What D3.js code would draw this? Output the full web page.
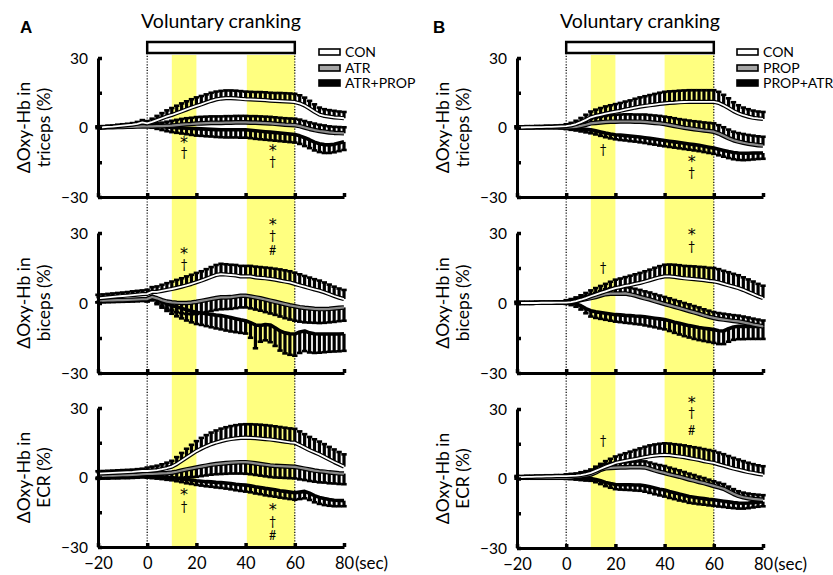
<!DOCTYPE html>
<html><head><meta charset="utf-8">
<script src="https://cdn.jsdelivr.net/npm/d3@7"></script>
<style>html,body{margin:0;padding:0;background:#fff;} svg{display:block;font-family:Lato,"Open Sans",sans-serif;}</style>
</head><body><svg id="chart" width="833" height="575"></svg>
<script>
"use strict";
// ---------------- DATA ----------------
const timeSec = [-20,-18,-16,-14,-12,-10,-8,-6,-4,-2, 0,2,4,6,8,10,12,14,16,18, 20,22,24,26,28,30,32,34,36,38, 40,42,44,46,48,50,52,54,56,58, 60,62,64,66,68,70,72,74,76,78, 80];
const xTicks = [-20,0,20,40,60,80];
const yTicks = [30,15,0,-15,-30];
const muscleLabels = [["ΔOxy-Hb in","triceps (%)"],["ΔOxy-Hb in","biceps (%)"],["ΔOxy-Hb in","ECR (%)"]];
const seriesNamesA = ["CON","ATR","ATR+PROP"];
const seriesNamesB = ["CON","PROP","PROP+ATR"];
const exerciseWindow = [0,60];
const analysisWindowsA = [[10,20],[40.5,60]];
const analysisWindowsB = [[10,20],[40,60]];
// error-bar direction per muscle (row) and series: +1 = upper SE, -1 = lower SE
const errDirA = [[1,1,-1],[1,-1,-1],[1,-1,-1]];
const errDirB = [[1,1,-1],[1,1,-1],[1,1,-1]];

// Panel A, triceps
const A_tri_CON = [0.0,0.1,0.3,0.4,0.6,0.8,1.0,1.2,1.6,2.2, 1.8,2.4,3.2,4.0,4.8,5.4,6.2,7.0,7.8,8.6, 9.3,10.0,10.8,11.5,12.1,12.5,12.7,12.7,12.6,12.4, 12.2,12.1,12.0,11.9,11.8,11.6,11.5,11.4,11.3,11.2, 11.0,10.4,9.5,8.2,6.8,5.6,5.0,4.7,4.4,4.2, 4.0];
const A_tri_CON_se = [0.5,0.5,0.5,0.5,0.6,0.6,0.6,0.7,0.8,1.0, 1.0,1.4,1.8,2.2,2.6,3.0,3.2,3.4,3.5,3.6, 3.7,3.6,3.5,3.5,3.4,3.3,3.3,3.3,3.3,3.3, 3.3,3.3,3.3,3.4,3.4,3.4,3.4,3.5,3.5,3.5, 3.5,3.5,3.4,3.3,3.2,3.0,2.9,2.8,2.8,2.7, 2.7];
const A_tri_ATR = [0.0,0.0,0.1,0.1,0.2,0.2,0.3,0.3,0.4,0.5, 0.5,0.5,0.6,0.6,0.7,0.8,1.0,1.2,1.4,1.5, 1.7,1.8,1.9,2.0,2.0,2.0,2.1,2.1,2.2,2.2, 2.2,2.1,2.1,2.0,1.9,1.8,1.6,1.4,1.2,1.1, 1.0,0.6,0.0,-0.6,-1.1,-1.5,-1.8,-2.1,-2.3,-2.4, -2.5];
const A_tri_ATR_se = [0.3,0.3,0.3,0.3,0.3,0.4,0.4,0.4,0.4,0.5, 0.6,0.9,1.2,1.5,1.8,2.1,2.3,2.5,2.6,2.7, 2.8,2.8,2.8,2.8,2.8,2.8,2.8,2.8,2.8,2.8, 2.8,2.8,2.8,2.8,2.8,2.8,2.8,2.8,2.8,2.8, 2.8,2.8,2.8,2.8,2.8,2.7,2.7,2.6,2.6,2.6, 2.6];
const A_tri_AP = [0.0,0.1,0.2,0.3,0.4,0.5,0.6,0.8,1.0,1.4, 1.0,0.8,0.6,0.4,0.2,0.0,-0.1,-0.2,-0.3,-0.4, -0.5,-0.6,-0.7,-0.8,-0.9,-1.0,-1.0,-1.0,-1.0,-1.0, -1.0,-1.2,-1.4,-1.6,-1.8,-2.0,-2.2,-2.4,-2.6,-2.8, -3.0,-3.6,-4.4,-5.3,-6.3,-7.0,-7.4,-7.5,-7.2,-6.7, -6.2];
const A_tri_AP_se = [0.3,0.3,0.3,0.3,0.3,0.4,0.4,0.4,0.4,0.4, 0.6,0.9,1.2,1.5,1.8,2.0,2.2,2.4,2.6,2.8, 3.0,3.0,3.1,3.1,3.2,3.2,3.3,3.3,3.3,3.4, 3.4,3.4,3.5,3.5,3.5,3.5,3.5,3.5,3.5,3.5, 3.5,3.5,3.6,3.6,3.6,3.6,3.6,3.5,3.5,3.5, 3.5];
// Panel A, biceps
const A_bic_CON = [2.0,2.2,2.4,2.6,2.8,3.0,3.2,3.4,3.6,3.8, 3.9,4.8,4.8,5.2,5.6,6.0,6.5,7.0,7.6,8.2, 8.9,9.6,10.4,11.2,12.0,12.4,12.2,12.0,11.8,11.4, 11.4,11.4,11.0,10.8,10.6,10.3,10.0,9.6,9.2,8.8, 8.2,7.6,7.0,6.4,5.8,5.3,4.6,3.8,3.0,2.3, 1.7];
const A_bic_CON_se = [1.5,1.5,1.5,1.5,1.5,1.5,1.5,1.6,1.6,1.6, 1.8,2.0,2.3,2.6,2.9,3.2,3.4,3.6,3.8,3.9, 4.0,4.0,4.1,4.2,4.3,4.4,4.4,4.4,4.5,4.5, 4.5,4.5,4.6,4.6,4.6,4.7,4.7,4.8,4.8,4.8, 4.8,4.7,4.6,4.5,4.4,4.3,4.2,4.1,4.0,3.9, 3.9];
const A_bic_ATR = [1.0,1.0,1.1,1.1,1.2,1.2,1.3,1.4,1.5,1.6, 1.7,2.6,2.0,1.2,0.6,0.3,0.1,0.0,0.0,0.2, 0.5,0.9,1.3,1.7,2.1,2.4,2.4,2.5,2.8,3.1, 3.1,2.8,2.4,2.0,1.5,1.0,0.5,0.0,-0.5,-1.0, -1.4,-1.8,-2.1,-2.3,-2.5,-2.6,-2.6,-2.5,-2.3,-2.1, -1.9];
const A_bic_ATR_se = [0.7,0.7,0.7,0.7,0.7,0.7,0.7,0.7,0.7,0.7, 1.0,1.5,2.0,2.5,3.0,3.5,4.0,4.4,4.7,5.0, 5.2,5.2,5.2,5.2,5.1,5.1,5.0,5.0,5.0,5.0, 5.0,5.1,5.2,5.3,5.4,5.5,5.6,5.8,6.0,6.1, 6.2,6.2,6.2,6.1,6.0,6.0,5.9,5.8,5.8,5.7, 5.7];
const A_bic_AP = [1.0,1.1,1.1,1.2,1.2,1.3,1.3,1.4,1.5,1.6, 1.7,3.0,1.5,0.5,-0.4,-1.1,-1.7,-2.3,-2.9,-3.5, -4.0,-4.3,-4.6,-4.9,-5.2,-5.4,-5.8,-6.2,-6.7,-7.2, -7.6,-8.4,-9.4,-9.6,-9.2,-9.4,-10.6,-12.0,-12.8,-13.2, -13.3,-12.4,-12.0,-12.8,-13.2,-13.3,-13.3,-13.3,-13.3,-13.3, -13.2];
const A_bic_AP_se = [0.7,0.7,0.7,0.7,0.7,0.7,0.7,0.7,0.7,0.7, 1.0,1.5,2.0,2.5,3.0,3.5,4.0,4.3,4.6,4.8, 5.0,5.1,5.3,5.5,5.7,5.9,6.0,6.0,5.8,5.6, 5.5,6.5,10.0,7.0,6.8,7.4,7.8,8.4,8.8,9.0, 9.3,9.0,8.6,8.4,8.2,8.0,7.8,7.6,7.5,7.4, 7.3];
// Panel A, ECR
const A_ecr_CON = [1.7,1.8,1.9,2.0,2.1,2.2,2.3,2.4,2.6,2.8, 2.8,3.0,3.2,3.6,4.1,4.7,5.8,7.2,8.6,10.0, 11.4,12.5,13.5,14.4,15.1,15.7,16.2,16.6,16.9,17.1, 17.2,17.1,17.0,16.8,16.6,16.4,16.1,15.8,15.5,15.2, 15.0,14.0,12.9,11.8,10.9,10.0,8.9,7.8,6.7,5.7, 4.7];
const A_ecr_CON_se = [1.0,1.0,1.0,1.0,1.0,1.0,1.0,1.0,1.0,1.0, 1.5,1.7,1.9,2.1,2.3,2.5,3.0,3.4,3.8,4.1, 4.3,4.6,4.8,5.0,5.2,5.4,5.5,5.6,5.7,5.8, 5.8,5.9,5.9,6.0,6.0,6.0,6.0,6.0,6.0,6.0, 6.0,5.9,5.8,5.7,5.6,5.5,5.5,5.4,5.4,5.3, 5.3];
const A_ecr_ATR = [0.7,0.7,0.8,0.8,0.9,1.0,1.0,1.1,1.2,1.4, 1.5,1.6,1.7,1.8,1.9,2.1,2.5,3.0,3.5,3.9, 4.3,4.7,5.1,5.5,5.8,6.0,6.2,6.4,6.5,6.6, 6.6,6.4,6.1,5.8,5.5,5.2,5.0,4.9,4.8,4.7, 4.6,4.2,3.8,3.4,3.0,2.7,2.5,2.2,2.0,1.8, 1.7];
const A_ecr_ATR_se = [0.8,0.8,0.8,0.8,0.8,0.8,0.8,0.8,0.8,0.8, 1.0,1.3,1.6,1.9,2.2,2.5,2.8,3.1,3.4,3.7, 4.0,4.1,4.2,4.3,4.4,4.5,4.6,4.7,4.8,4.9, 5.0,5.0,5.0,5.0,5.0,5.0,5.0,5.0,5.0,5.0, 5.0,5.0,4.9,4.9,4.8,4.8,4.7,4.7,4.6,4.6, 4.6];
const A_ecr_AP = [0.0,0.1,0.1,0.2,0.2,0.3,0.3,0.4,0.5,0.6, 0.6,0.5,0.4,0.3,0.1,0.0,-0.3,-0.6,-0.9,-1.1, -1.4,-1.6,-1.8,-1.9,-2.1,-2.2,-2.4,-2.6,-2.9,-3.1, -3.3,-3.6,-4.0,-4.3,-4.7,-5.0,-5.3,-5.7,-6.0,-6.3, -6.6,-6.3,-6.0,-6.8,-7.8,-8.6,-9.1,-9.5,-9.8,-9.9, -10.0];
const A_ecr_AP_se = [0.6,0.6,0.6,0.6,0.6,0.6,0.6,0.6,0.6,0.6, 0.7,0.8,0.9,1.0,1.1,1.2,1.3,1.4,1.6,1.7, 1.8,1.9,2.0,2.1,2.2,2.3,2.4,2.5,2.6,2.7, 2.8,2.8,2.9,2.9,3.0,3.0,3.0,3.0,3.0,3.0, 3.0,3.0,3.0,2.9,2.9,2.8,2.8,2.7,2.6,2.5, 2.4];
// Panel B, triceps
const B_tri_CON = [0.0,0.0,0.1,0.1,0.2,0.2,0.3,0.3,0.4,0.5, 0.6,0.9,1.5,2.3,3.3,4.4,5.0,5.5,6.0,6.4, 6.8,7.2,7.7,8.1,8.6,9.0,9.3,9.6,9.9,10.2, 10.4,10.6,10.7,10.9,11.0,11.1,11.1,11.1,11.1,11.1, 11.1,10.6,9.6,8.4,7.1,6.1,5.3,4.7,4.2,3.9, 3.7];
const B_tri_CON_se = [0.5,0.5,0.5,0.5,0.5,0.5,0.5,0.5,0.5,0.5, 0.8,1.1,1.4,1.8,2.2,2.5,2.7,2.9,3.1,3.2, 3.3,3.4,3.5,3.6,3.8,4.0,4.2,4.4,4.6,4.8, 5.0,5.0,5.0,5.0,5.0,5.0,5.0,5.0,5.0,5.0, 5.0,4.8,4.5,4.2,3.8,3.5,3.3,3.2,3.1,3.0, 3.0];
const B_tri_PROP = [0.0,0.0,0.0,0.1,0.1,0.1,0.1,0.1,0.1,0.1, 0.0,0.1,0.3,0.7,1.2,1.8,2.0,2.2,2.4,2.5, 2.5,2.6,2.6,2.6,2.5,2.5,2.4,2.2,2.0,1.8, 1.5,1.1,0.7,0.3,-0.1,-0.4,-0.7,-1.0,-1.3,-1.5, -1.8,-2.6,-3.6,-4.6,-5.5,-6.1,-6.6,-7.0,-7.3,-7.6, -7.8];
const B_tri_PROP_se = [0.4,0.4,0.4,0.4,0.4,0.4,0.4,0.4,0.4,0.4, 0.5,0.7,1.0,1.3,1.6,2.0,2.2,2.4,2.6,2.8, 3.0,3.0,3.1,3.1,3.1,3.1,3.2,3.2,3.2,3.2, 3.2,3.3,3.3,3.3,3.4,3.4,3.4,3.5,3.5,3.5, 3.6,3.6,3.7,3.7,3.7,3.7,3.8,3.8,3.8,3.8, 3.8];
const B_tri_PA = [0.0,0.0,0.0,0.0,0.1,0.1,0.1,0.1,0.1,0.0, -0.2,-0.3,-0.4,-0.6,-0.8,-1.0,-1.4,-1.9,-2.4,-2.8, -3.1,-3.3,-3.5,-3.7,-3.9,-4.1,-4.4,-4.7,-5.0,-5.3, -5.6,-5.9,-6.2,-6.5,-6.8,-7.1,-7.4,-7.7,-8.1,-8.5, -8.9,-9.4,-9.9,-10.4,-10.8,-11.0,-11.1,-11.1,-11.0,-11.0, -11.0];
const B_tri_PA_se = [0.4,0.4,0.4,0.4,0.4,0.4,0.4,0.4,0.4,0.4, 0.5,0.7,0.9,1.1,1.3,1.5,1.6,1.7,1.8,1.9, 2.0,2.1,2.1,2.2,2.2,2.3,2.3,2.4,2.4,2.5, 2.5,2.5,2.5,2.5,2.5,2.5,2.5,2.5,2.5,2.5, 2.5,2.6,2.7,2.8,2.9,3.0,3.0,2.9,2.8,2.6, 2.5];
// Panel B, biceps
const B_bic_CON = [0.0,0.0,0.0,0.0,0.0,0.1,0.1,0.1,0.2,0.2, 0.2,0.4,0.8,1.4,2.1,2.9,3.6,4.3,5.0,5.7, 6.4,6.8,7.3,7.7,8.2,8.6,9.2,9.8,10.4,11.0, 11.4,11.4,11.2,10.9,10.6,10.4,10.2,10.0,9.8,9.5, 9.3,8.8,8.2,7.6,7.0,6.4,5.6,4.7,3.8,2.9, 2.1];
const B_bic_CON_se = [0.5,0.5,0.5,0.5,0.5,0.5,0.5,0.5,0.5,0.5, 1.0,1.3,1.6,1.9,2.2,2.5,2.8,3.0,3.2,3.4, 3.6,3.7,3.8,4.0,4.1,4.3,4.4,4.5,4.7,4.8, 5.0,5.1,5.2,5.3,5.3,5.4,5.5,5.5,5.6,5.6, 5.7,5.7,5.6,5.6,5.5,5.5,5.4,5.4,5.4,5.3, 5.3];
const B_bic_PROP = [0.0,0.0,0.0,0.0,0.1,0.1,0.1,0.1,0.2,0.2, 0.3,0.5,0.9,1.3,1.7,2.1,2.6,3.2,3.8,4.0, 4.0,4.0,4.1,3.7,3.2,2.6,2.0,1.5,0.8,0.2, -0.4,-1.0,-1.6,-2.2,-2.8,-3.4,-4.0,-4.6,-5.3,-5.9, -6.4,-6.8,-7.1,-7.4,-7.7,-7.9,-8.3,-8.7,-9.2,-9.6, -10.0];
const B_bic_PROP_se = [0.4,0.4,0.4,0.4,0.4,0.4,0.4,0.4,0.4,0.4, 0.5,0.7,0.9,1.1,1.3,1.5,1.7,1.9,2.1,2.3, 2.5,2.6,2.7,2.8,2.9,3.0,3.0,3.0,3.0,3.0, 3.0,3.0,2.9,2.9,2.8,2.8,2.7,2.7,2.6,2.6, 2.5,2.5,2.5,2.5,2.5,2.5,2.5,2.5,2.5,2.5, 2.5];
const B_bic_PA = [0.0,0.0,0.0,0.0,0.1,0.1,0.1,0.1,0.2,0.2, 0.2,0.0,-0.4,-1.2,-2.4,-3.3,-3.8,-4.1,-4.4,-4.7, -5.0,-5.1,-5.3,-5.4,-5.6,-5.7,-5.9,-6.2,-6.5,-6.8, -7.1,-7.6,-8.2,-8.7,-9.2,-9.7,-10.1,-10.5,-10.8,-11.1, -11.4,-11.9,-12.0,-11.0,-10.3,-10.0,-10.0,-10.0,-10.0,-10.0, -10.0];
const B_bic_PA_se = [0.4,0.4,0.4,0.4,0.4,0.4,0.4,0.4,0.4,0.4, 0.6,0.9,1.2,1.6,2.0,2.5,2.6,2.7,2.8,2.9, 3.0,3.1,3.2,3.3,3.4,3.5,3.7,3.8,3.9,4.1, 4.2,4.4,4.6,4.8,5.0,5.1,5.3,5.4,5.5,5.6, 5.7,5.7,5.6,5.6,5.5,5.5,5.5,5.4,5.4,5.4, 5.4];
// Panel B, ECR
const B_ecr_CON = [0.6,0.6,0.7,0.7,0.8,0.8,0.9,0.9,1.0,1.0, 1.0,1.1,1.2,1.5,1.9,2.4,3.3,4.2,5.1,5.9, 6.7,7.2,7.6,8.0,8.4,8.8,9.2,9.6,9.9,10.1, 10.2,10.1,9.8,9.5,9.2,8.8,8.4,8.0,7.5,7.1, 6.7,6.1,5.5,4.9,4.3,3.8,3.3,2.8,2.4,2.0, 1.7];
const B_ecr_CON_se = [0.5,0.5,0.5,0.5,0.5,0.5,0.5,0.5,0.5,0.5, 0.8,0.9,1.0,1.2,1.3,1.5,1.8,2.1,2.4,2.6, 2.8,3.0,3.3,3.6,3.9,4.2,4.5,4.7,4.8,4.9, 5.0,5.0,5.0,5.1,5.1,5.1,5.1,5.2,5.2,5.2, 5.2,5.1,5.0,4.8,4.6,4.4,4.2,4.0,3.8,3.7, 3.6];
const B_ecr_PROP = [0.3,0.3,0.3,0.3,0.3,0.3,0.3,0.3,0.3,0.3, 0.3,0.5,0.8,1.0,1.3,1.7,2.6,3.8,4.4,4.6, 4.7,4.8,4.8,4.9,4.9,4.9,4.8,4.2,3.5,2.9, 2.4,1.8,1.3,0.8,0.2,-0.4,-0.9,-1.5,-2.0,-2.6, -3.2,-3.8,-4.4,-5.5,-6.6,-7.5,-8.1,-8.5,-8.8,-9.0, -9.2];
const B_ecr_PROP_se = [0.4,0.4,0.4,0.4,0.4,0.4,0.4,0.4,0.4,0.4, 0.5,0.6,0.8,1.0,1.2,1.5,1.6,1.7,1.8,1.9, 2.0,2.1,2.2,2.3,2.4,2.5,2.6,2.7,2.8,2.9, 3.0,2.9,2.8,2.7,2.6,2.5,2.4,2.3,2.2,2.1, 2.0,2.0,2.0,2.0,2.0,2.0,2.0,2.0,2.0,2.0, 2.0];
const B_ecr_PA = [0.3,0.3,0.3,0.3,0.3,0.3,0.3,0.3,0.3,0.3, 0.3,0.3,0.2,0.1,0.0,0.0,-0.4,-1.0,-1.7,-2.2, -2.6,-2.7,-2.7,-2.7,-2.8,-2.8,-3.1,-3.6,-4.1,-4.6, -5.0,-5.6,-6.1,-6.7,-7.2,-7.8,-8.1,-8.4,-8.7,-9.0, -9.2,-9.5,-9.8,-10.1,-10.4,-10.6,-10.7,-10.6,-10.4,-10.2, -10.0];
const B_ecr_PA_se = [0.4,0.4,0.4,0.4,0.4,0.4,0.4,0.4,0.4,0.4, 0.5,0.6,0.7,0.8,0.9,1.0,1.2,1.4,1.6,1.8, 2.0,2.1,2.2,2.3,2.4,2.5,2.6,2.6,2.7,2.7, 2.8,2.8,2.8,2.8,2.7,2.7,2.7,2.7,2.6,2.6, 2.6,2.6,2.5,2.5,2.4,2.4,2.3,2.2,2.1,2.0, 2.0];

// significance markers: [row, time, value, symbol]
const marksA = [[0,15,-5.5,"*"],[0,15,-11,"†"],[0,51,-9,"*"],[0,51,-14.5,"†"],
  [1,15,21.9,"*"],[1,15,16.3,"†"],[1,51,34.7,"*"],[1,51,29.1,"†"],[1,51,22.7,"#"],
  [2,15,-6.5,"*"],[2,15,-12.5,"†"],[2,51,-13,"*"],[2,51,-19,"†"],[2,51,-25,"#"]];
const marksB = [[0,15,-9.7,"†"],[0,51,-14,"*"],[0,51,-19.6,"†"],
  [1,15,15.1,"†"],[1,51,30.1,"*"],[1,51,24.1,"†"],
  [2,15,16.5,"†"],[2,51,33.6,"*"],[2,51,28.4,"†"],[2,51,20.8,"#"]];

const panelsA = [
  [[A_tri_CON,A_tri_CON_se],[A_tri_ATR,A_tri_ATR_se],[A_tri_AP,A_tri_AP_se]],
  [[A_bic_CON,A_bic_CON_se],[A_bic_ATR,A_bic_ATR_se],[A_bic_AP,A_bic_AP_se]],
  [[A_ecr_CON,A_ecr_CON_se],[A_ecr_ATR,A_ecr_ATR_se],[A_ecr_AP,A_ecr_AP_se]]];
const panelsB = [
  [[B_tri_CON,B_tri_CON_se],[B_tri_PROP,B_tri_PROP_se],[B_tri_PA,B_tri_PA_se]],
  [[B_bic_CON,B_bic_CON_se],[B_bic_PROP,B_bic_PROP_se],[B_bic_PA,B_bic_PA_se]],
  [[B_ecr_CON,B_ecr_CON_se],[B_ecr_PROP,B_ecr_PROP_se],[B_ecr_PA,B_ecr_PA_se]]];

// ---------------- LAYOUT / STYLE ----------------
const columns = [
  {label:"A", x0:98, x1:344, rows:[[58,197],[233,373],[408,547]], panels:panelsA, names:seriesNamesA, dirs:errDirA, wins:analysisWindowsA, marks:marksA, ylabX:[30,50], legX:319, labX:20},
  {label:"B", x0:517, x1:763, rows:[[58,197],[233,373],[409,548]], panels:panelsB, names:seriesNamesB, dirs:errDirB, wins:analysisWindowsB, marks:marksB, ylabX:[449,469], legX:737, labX:433}
];
const lineStyles = [
  {outer:"#000", outerW:4.2, inner:"#fff", innerW:1.8, fill:"#fff"},
  {outer:"#000", outerW:4.6, inner:"#8a8a8a", innerW:2.2, fill:"#a6a6a6"},
  {outer:"#000", outerW:3.6, inner:null, innerW:0, fill:"#000"}
];
const fmtY = d => d === 30 ? "30" : d === 0 ? "0" : d === -30 ? "\u221230" : "";
const fmtX = d => d < 0 ? "\u2212" + Math.abs(d) : String(d);

const svg = d3.select("#chart");

columns.forEach(col => {
  const x = d3.scaleLinear().domain([-20, 80]).range([col.x0, col.x1]);
  const g = svg.append("g");
  const bottom = col.rows[2][1];

  // analysis windows
  col.wins.forEach(w => {
    g.append("rect").attr("x", x(w[0])).attr("width", x(w[1]) - x(w[0]))
      .attr("y", 55).attr("height", bottom - 55).attr("fill", "#ffff80");
  });
  // dotted exercise boundaries
  exerciseWindow.forEach(t => {
    g.append("line").attr("x1", x(t)).attr("x2", x(t)).attr("y1", 53).attr("y2", bottom)
      .attr("stroke", "#000").attr("stroke-width", 1.2).attr("stroke-dasharray", "1.2,1.6");
  });
  // cranking bar
  g.append("rect").attr("x", x(exerciseWindow[0])).attr("width", x(exerciseWindow[1]) - x(exerciseWindow[0]))
    .attr("y", 42).attr("height", 11).attr("fill", "#fff").attr("stroke", "#000").attr("stroke-width", 2.5);
  g.append("text").attr("x", x(30)).attr("y", 28).attr("text-anchor", "middle")
    .attr("font-size", 19.5).text("Voluntary cranking");
  g.append("text").attr("x", col.labX).attr("y", 33).attr("font-family", "'Liberation Sans',Arial,sans-serif")
    .attr("font-weight", "bold").attr("font-size", 17).text(col.label);

  // legend
  const legY = [52, 68, 83];
  col.names.forEach((n, i) => {
    g.append("rect").attr("x", col.legX).attr("y", legY[i] - 3).attr("width", 21).attr("height", 6)
      .attr("fill", lineStyles[i].fill).attr("stroke", "#000").attr("stroke-width", 1.6);
    g.append("text").attr("x", col.legX + 26).attr("y", legY[i] + 5).attr("font-size", 14).text(n);
  });

  col.rows.forEach((r, ri) => {
    const y = d3.scaleLinear().domain([-30, 30]).range([r[1], r[0]]);
    const series = col.panels[ri];
    const pg = g.append("g");
    // error bars (drawn beneath the lines)
    [2, 1, 0].forEach(si => {
      const vals = series[si][0], se = series[si][1], dir = col.dirs[ri][si];
      const eg = pg.append("g").attr("stroke", "#000");
      timeSec.forEach((t, i) => {
        const yEnd = y(vals[i] + dir * se[i]);
        eg.append("line").attr("x1", x(t)).attr("x2", x(t)).attr("y1", y(vals[i])).attr("y2", yEnd)
          .attr("stroke-width", 3.2);
        eg.append("line").attr("x1", x(t) - 2.7).attr("x2", x(t) + 2.7).attr("y1", yEnd).attr("y2", yEnd)
          .attr("stroke-width", 2.6);
      });
    });
    // mean lines
    [2, 1, 0].forEach(si => {
      const vals = series[si][0];
      const line = d3.line().x((d, i) => x(timeSec[i])).y(d => y(d));
      const st = lineStyles[si];
      pg.append("path").datum(vals).attr("d", line).attr("fill", "none")
        .attr("stroke", st.outer).attr("stroke-width", st.outerW).attr("stroke-linejoin", "round");
      if (st.inner) pg.append("path").datum(vals).attr("d", line).attr("fill", "none")
        .attr("stroke", st.inner).attr("stroke-width", st.innerW).attr("stroke-linejoin", "round");
    });

    // axes
    const ya = g.append("g").attr("transform", `translate(${col.x0},0)`)
      .call(d3.axisLeft(y).tickValues(yTicks).tickSize(-4).tickSizeOuter(0).tickPadding(10).tickFormat(fmtY));
    const xa = g.append("g").attr("transform", `translate(0,${r[1]})`)
      .call(d3.axisBottom(x).tickValues(xTicks).tickSize(-4).tickSizeOuter(0).tickPadding(10)
        .tickFormat(ri === 2 ? fmtX : () => ""));
    [ya, xa].forEach(a => {
      a.select(".domain").attr("stroke-width", 3).attr("stroke", "#000");
      a.selectAll(".tick line").attr("stroke-width", 3.5).attr("stroke", "#000");
      a.selectAll("text").attr("font-family", "Lato,'Open Sans',sans-serif").attr("fill", "#000");
    });
    ya.selectAll("text").attr("dy", "0.35em").attr("font-size", 15.5);
    xa.selectAll("text").attr("dy", "0.75em").attr("font-size", 16.5);
    if (ri === 2) {
      g.append("text").attr("x", col.x1 + 11).attr("y", r[1] + 22).attr("font-size", 17).text("(sec)");
    }
    // y label
    const cy = (r[0] + r[1]) / 2;
    muscleLabels[ri].forEach((txt, li) => {
      g.append("text").attr("transform", `translate(${col.ylabX[li]},${cy}) rotate(-90)`)
        .attr("text-anchor", "middle").attr("font-size", 17.5).text(txt);
    });
    // significance markers: one stacked text per (row, time)
    const rowMarks = col.marks.filter(m => m[0] === ri);
    const groups = d3.groups(rowMarks, m => m[1]);
    groups.forEach(([t, ms]) => {
      const txt = g.append("text").attr("text-anchor", "middle");
      ms.forEach(m => {
        const isStar = m[3] === "*";
        txt.append("tspan").attr("x", x(t))
          .attr("y", y(m[2]) + (isStar ? 7.5 : 4.5))
          .attr("font-family", isStar ? "'DejaVu Sans',sans-serif" : "Lato,sans-serif")
          .attr("font-size", isStar ? 16 : 12.5).text(m[3]);
      });
    });
  });
});
</script></body></html>
